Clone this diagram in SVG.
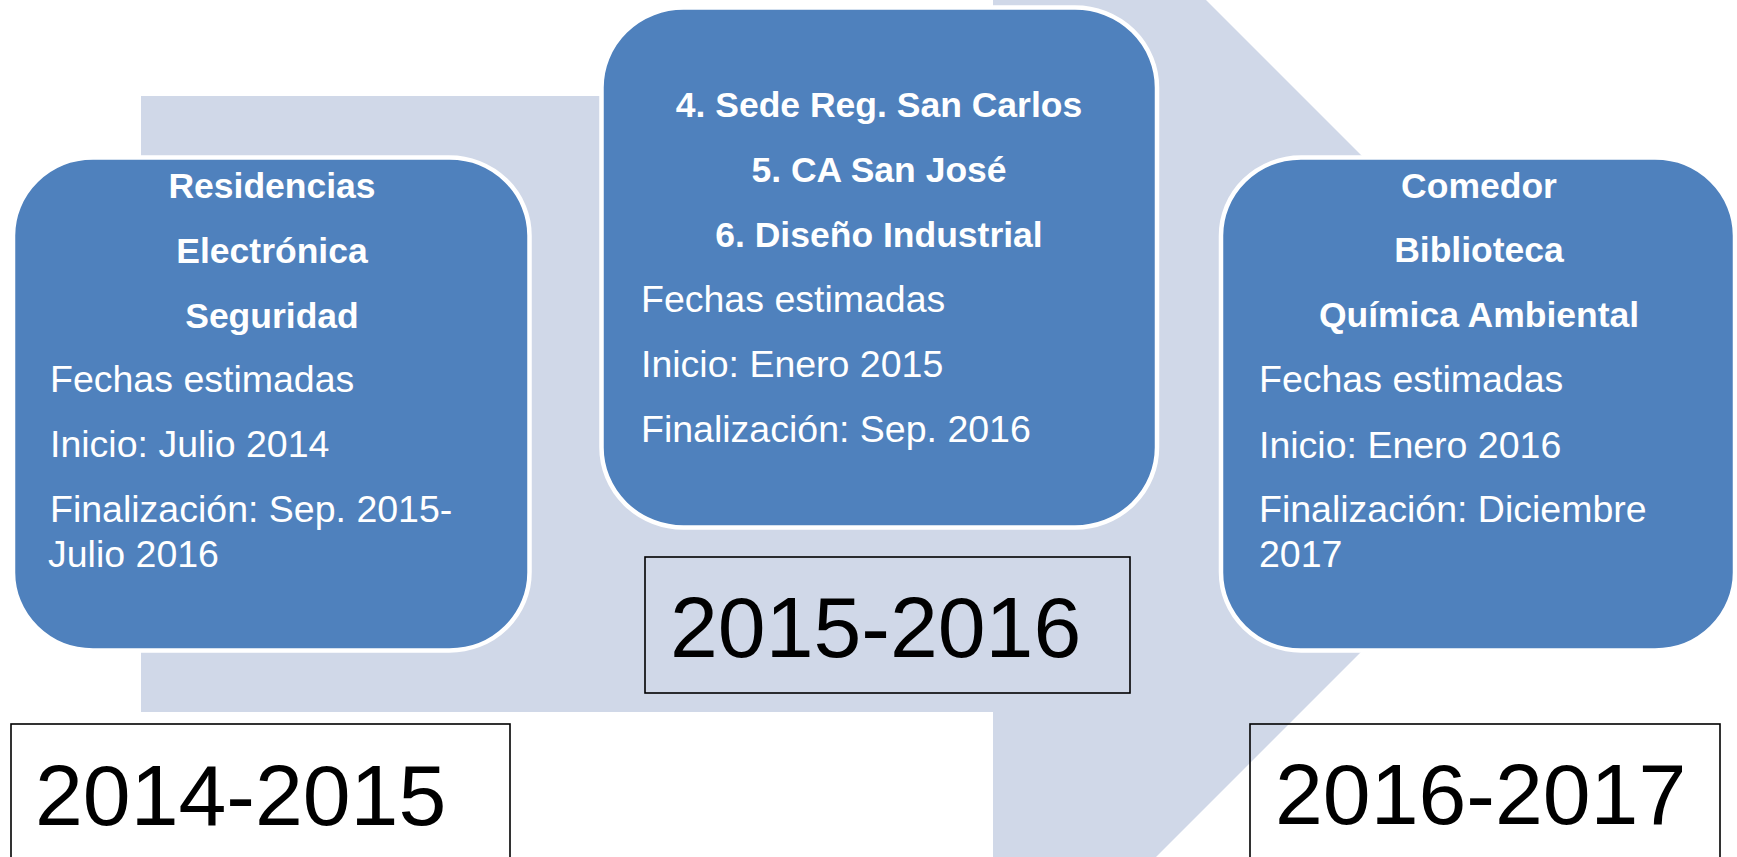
<svg xmlns="http://www.w3.org/2000/svg" width="1737" height="857" viewBox="0 0 1737 857">
<style>
.bg{fill:#ffffff}
.arrow{fill:#D0D8E8}
.node{fill:#4F81BD;stroke:#ffffff;stroke-width:4.5}
.hd{font-family:"Liberation Sans",Arial,sans-serif;font-weight:bold;font-size:35.5px;fill:#ffffff;text-anchor:middle}
.tx{font-family:"Liberation Sans",Arial,sans-serif;font-size:37.5px;fill:#ffffff}
.yr{fill:none;stroke:#000000;stroke-width:1.6}
.yt{font-family:"Liberation Sans",Arial,sans-serif;font-size:86px;fill:#000000}
</style>
<rect class="bg" x="0" y="0" width="1737" height="857"/>
<g id="connectors">
<polygon class="arrow" points="141,96 993,96 993,-213 1609.5,403.5 993,1020 993,712 141,712"/>
</g>
<g id="node-2014">
<rect class="node" x="13" y="157.5" width="516.5" height="493" rx="80" ry="78"/>
<text class="hd" x="272" y="198">Residencias</text>
<text class="hd" x="272" y="263">Electrónica</text>
<text class="hd" x="272" y="328">Seguridad</text>
<text class="tx" x="50" y="392">Fechas estimadas</text>
<text class="tx" x="50" y="457">Inicio: Julio 2014</text>
<text class="tx" x="50" y="522">Finalización: Sep. 2015-</text>
<text class="tx" x="48" y="567">Julio 2016</text>
</g>
<g id="node-2015">
<rect class="node" x="601.5" y="7.5" width="555.5" height="520" rx="82" ry="80"/>
<text class="hd" x="879" y="117">4. Sede Reg. San Carlos</text>
<text class="hd" x="879" y="182">5. CA San José</text>
<text class="hd" x="879" y="247">6. Diseño Industrial</text>
<text class="tx" x="641" y="312">Fechas estimadas</text>
<text class="tx" x="641" y="377">Inicio: Enero 2015</text>
<text class="tx" x="641" y="442">Finalización: Sep. 2016</text>
</g>
<g id="node-2016">
<rect class="node" x="1221" y="157.5" width="514" height="493" rx="80" ry="78"/>
<text class="hd" x="1479" y="198">Comedor</text>
<text class="hd" x="1479" y="262">Biblioteca</text>
<text class="hd" x="1479" y="327">Química Ambiental</text>
<text class="tx" x="1259" y="392">Fechas estimadas</text>
<text class="tx" x="1259" y="458">Inicio: Enero 2016</text>
<text class="tx" x="1259" y="522">Finalización: Diciembre</text>
<text class="tx" x="1259" y="567">2017</text>
</g>
<g id="label-2014-2015">
<rect class="yr" x="11" y="724" width="499" height="160"/>
<text class="yt" x="35" y="825">2014-2015</text>
</g>
<g id="label-2015-2016">
<rect class="yr" x="645" y="557" width="485" height="136"/>
<text class="yt" x="670" y="657">2015-2016</text>
</g>
<g id="label-2016-2017">
<rect class="yr" x="1250" y="724" width="470" height="160"/>
<text class="yt" x="1275" y="824">2016-2017</text>
</g>
</svg>
